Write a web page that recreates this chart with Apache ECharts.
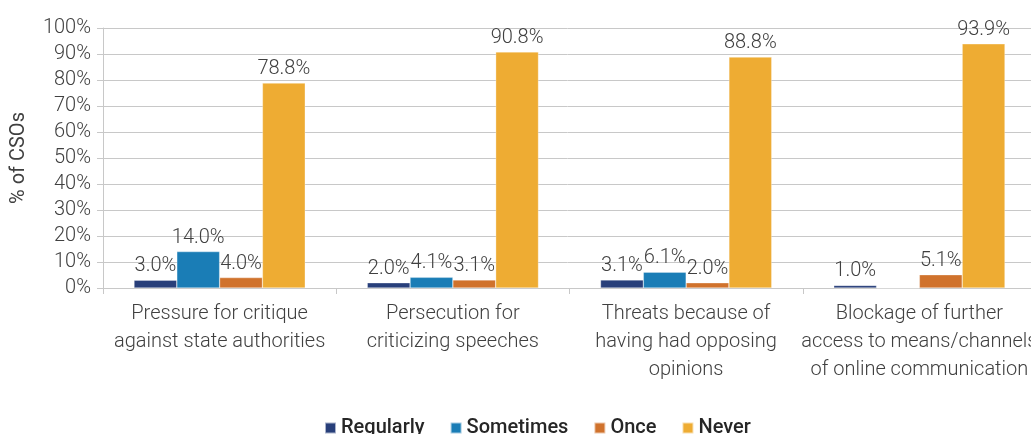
<!DOCTYPE html>
<html>
<head>
<meta charset="utf-8">
<script src="https://cdn.jsdelivr.net/npm/echarts@6/dist/echarts.min.js"></script>
<style>
  html, body { margin: 0; padding: 0; background: #fff; }
  #chart { width: 1031px; height: 434px; }
</style>
</head>
<body>
<div id="chart"></div>
<script>
// Categories of restriction experienced by CSOs
const categories = [
  'Pressure for critique\nagainst state authorities',
  'Persecution for\ncriticizing speeches',
  'Threats because of\nhaving had opposing\nopinions',
  'Blockage of further\naccess to means/channels\nof online communication'
];

// Share of CSOs (%) by frequency
const regularly = [3.0, 2.0, 3.1, 1.0];
const sometimes = [14.0, 4.1, 6.1, 0];
const once = [4.0, 3.1, 2.0, 5.1];
const never = [78.8, 90.8, 88.8, 93.9];

const yTicks = [0, 100, 10]; // min, max, step

const FONT = 'Roboto, "Liberation Sans", sans-serif';
const TEXT = '#404040';

function barSeries(name, data, color) {
  return {
    name: name,
    type: 'bar',
    data: data,
    barGap: '0%',
    barCategoryGap: '26.6%',
    itemStyle: { color: color, borderColor: 'rgba(255,255,255,0.6)', borderWidth: 0.5 },
    label: {
      show: true,
      position: 'top',
      distance: 4,
      color: TEXT,
      fontFamily: FONT,
      fontWeight: 300,
      fontSize: 20,
      formatter: p => (p.value === 0 ? '' : p.value.toFixed(1) + '%')
    }
  };
}

const chart = echarts.init(document.getElementById('chart'), null, { renderer: 'canvas' });
chart.setOption({
  animation: false,
  textStyle: { fontFamily: FONT, color: TEXT },
  grid: {
    left: 103, top: 28, width: 933, height: 260,
    containLabel: false, outerBoundsMode: 'none'
  },
  legend: {
    bottom: -4,
    left: 324,
    padding: 0,
    itemWidth: 11,
    itemHeight: 11,
    itemGap: 25,
    icon: 'rect',
    textStyle: { fontFamily: FONT, fontSize: 20, fontWeight: 500, color: '#262626', padding: [0, 0, 0, 0] },
    data: ['Regularly', 'Sometimes', 'Once', 'Never']
  },
  xAxis: {
    type: 'category',
    data: categories,
    axisLine: { lineStyle: { color: '#c8c8c8', width: 1 } },
    axisTick: { show: true, length: 6, lineStyle: { color: '#c8c8c8' } },
    axisLabel: {
      interval: 0,
      margin: 12,
      color: TEXT,
      fontFamily: FONT,
      fontWeight: 300,
      fontSize: 20,
      lineHeight: 28
    }
  },
  yAxis: {
    type: 'value',
    min: yTicks[0],
    max: yTicks[1],
    interval: yTicks[2],
    name: '% of CSOs',
    nameLocation: 'middle',
    nameRotate: 90,
    nameGap: 74,
    nameTextStyle: { fontFamily: FONT, fontSize: 20, color: TEXT },
    axisLine: { show: true, lineStyle: { color: '#c8c8c8' } },
    axisTick: { show: true, length: 6, lineStyle: { color: '#c8c8c8' } },
    splitLine: { lineStyle: { color: '#c8c8c8', width: 1 } },
    axisLabel: {
      formatter: '{value}%',
      margin: 12,
      color: TEXT,
      fontFamily: FONT,
      fontWeight: 300,
      fontSize: 20
    }
  },
  series: [
    barSeries('Regularly', regularly, '#283f7a'),
    barSeries('Sometimes', sometimes, '#1a7db6'),
    barSeries('Once', once, '#d0722c'),
    barSeries('Never', never, '#eeac33')
  ]
});
</script>
</body>
</html>
